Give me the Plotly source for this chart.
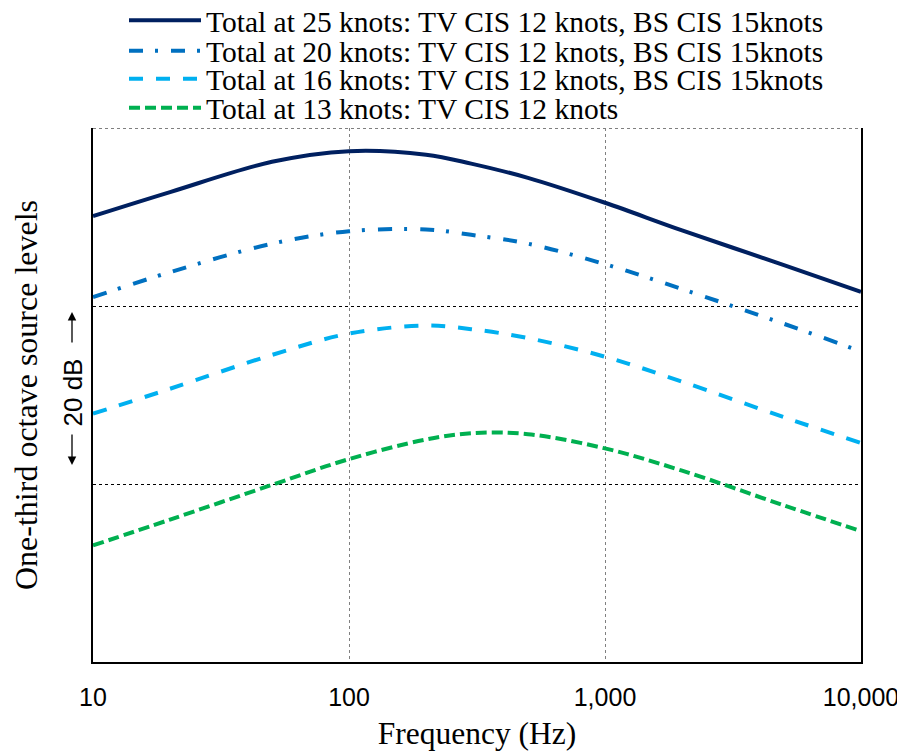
import plotly.graph_objects as go

# Frequency (Hz)
freq = [10, 20, 50, 100, 200, 300, 500, 1000, 2000, 5000, 10000]

# Relative one-third octave source levels (dB, arbitrary reference)
total_25kn = [50.1, 52.8, 56.2, 57.4, 57.0, 56.0, 54.4, 51.6, 48.5, 44.6, 41.6]
total_20kn = [41.0, 43.8, 47.0, 48.4, 48.6, 48.0, 47.0, 44.7, 41.9, 38.0, 34.9]
total_16kn = [27.9, 30.7, 34.5, 36.9, 37.8, 37.4, 36.4, 34.3, 31.5, 27.5, 24.6]
total_13kn = [13.1, 16.0, 19.9, 22.8, 25.0, 25.7, 25.6, 24.0, 21.5, 17.6, 14.7]

series_names = [
    "Total at 25 knots: TV CIS 12 knots, BS CIS 15knots",
    "Total at 20 knots: TV CIS 12 knots, BS CIS 15knots",
    "Total at 16 knots: TV CIS 12 knots, BS CIS 15knots",
    "Total at 13 knots: TV CIS 12 knots",
]

x_tickvals = [10, 100, 1000, 10000]
x_ticktext = ["10", "100", "1,000", "10,000"]

SERIF = "Liberation Serif, Times New Roman, serif"
SANS = "Liberation Sans, Arial, sans-serif"

styles = [
    dict(color="#002060", dash="solid"),
    dict(color="#0070C0", dash="14px,12px,3px,13px"),
    dict(color="#00B0F0", dash="14px,13px"),
    dict(color="#00B050", dash="11px,5px"),
]
data = [total_25kn, total_20kn, total_16kn, total_13kn]
legends = ["legend", "legend2", "legend3", "legend4"]

fig = go.Figure()
for name, ys, st, lg in zip(series_names, data, styles, legends):
    fig.add_trace(go.Scatter(
        x=freq, y=ys, name=name, mode="lines",
        line=dict(color=st["color"], dash=st["dash"], width=4, shape="spline", smoothing=1),
        legend=lg, showlegend=True,
    ))

# the page body adds an 8px offset; work in figure coordinates
OFF = 8
FIG_W, FIG_H = 905 - OFF, 751 - OFF
plot_left, plot_right = 93 - OFF, 861 - OFF
plot_top, plot_bot = 128 - OFF, 662 - OFF
W = plot_right - plot_left
H = plot_bot - plot_top

row_px = [20.5 - OFF, 51 - OFF, 79 - OFF, 108 - OFF]
leg_common = dict(
    x=(124 - OFF - plot_left) / W, xanchor="left", yanchor="middle",
    font=dict(family=SERIF, size=29.5, color="black"),
    bgcolor="rgba(0,0,0,0)", borderwidth=0, itemwidth=72,
)
layout_legends = {}
for lg, py in zip(legends, row_px):
    layout_legends[lg] = dict(y=(plot_bot - py) / H, **leg_common)

fig.update_layout(
    width=FIG_W, height=FIG_H,
    margin=dict(l=plot_left, r=FIG_W - plot_right, t=plot_top, b=FIG_H - plot_bot, autoexpand=False),
    paper_bgcolor="white", plot_bgcolor="white",
    font=dict(family=SANS, color="black"),
    **layout_legends,
)

fig.update_xaxes(
    type="log", range=[1, 4],
    tickvals=x_tickvals, ticktext=x_ticktext,
    tickfont=dict(family=SANS, size=25, color="black"),
    ticks="", ticklabelstandoff=12,
    showgrid=True, gridcolor="#808080", griddash="dot", gridwidth=1,
    showline=True, linecolor="black", linewidth=1.5, mirror=False,
    zeroline=False,
    title=dict(text="Frequency (Hz)", font=dict(family=SERIF, size=31.5, color="black"), standoff=20),
)
fig.update_yaxes(
    range=[0, 60], tickvals=[20, 40, 60], showticklabels=False, ticks="",
    showgrid=True, gridcolor="black", griddash="dot", gridwidth=1,
    showline=True, linecolor="black", linewidth=1.5, mirror=True,
    zeroline=False,
    title=dict(text="One-third octave source levels", font=dict(family=SERIF, size=32, color="black"), standoff=45),
)

# dotted top frame edge
fig.add_shape(type="line", xref="paper", yref="y", x0=0, x1=1, y0=60, y1=60,
              line=dict(color="black", width=1, dash="dot"), layer="below")

# "<- 20 dB ->" scale marker, rotated
ax_x = (72 - OFF - plot_left) / W
fig.add_annotation(
    text="20 dB", textangle=-90,
    xref="paper", yref="paper", x=ax_x, y=(plot_bot - (392.5 - OFF)) / H,
    xanchor="center", yanchor="middle", showarrow=False,
    font=dict(family=SANS, size=26, color="black"),
)
for head_y, tail_dy in [(312, 31), (465, -31)]:
    fig.add_annotation(
        text="", xref="paper", yref="paper",
        x=ax_x, y=(plot_bot - (head_y - OFF)) / H,
        ax=0, ay=tail_dy, showarrow=True, borderpad=0,
        font=dict(size=1),
        arrowhead=2, arrowsize=1.3, arrowwidth=1.3, arrowcolor="black",
    )

fig.write_html("out.html")
